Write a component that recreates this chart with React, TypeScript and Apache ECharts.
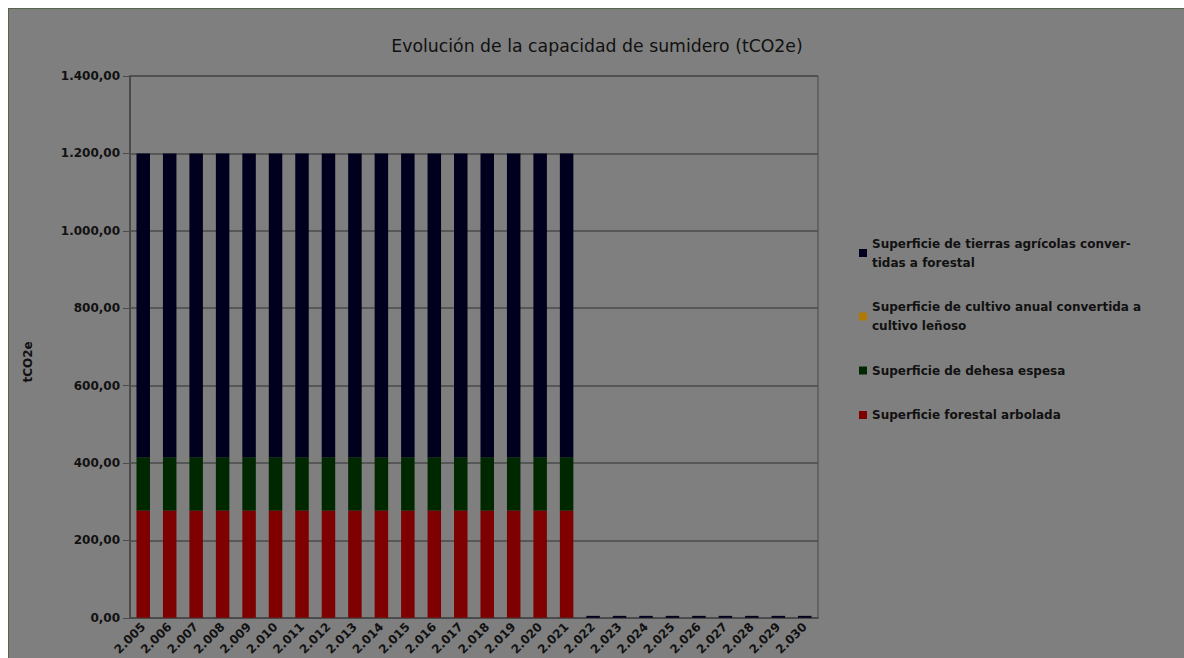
import React, { useEffect, useRef } from "react";
import * as echarts from "echarts";

const years = [
  2005, 2006, 2007, 2008, 2009, 2010, 2011, 2012, 2013, 2014, 2015, 2016, 2017,
  2018, 2019, 2020, 2021, 2022, 2023, 2024, 2025, 2026, 2027, 2028, 2029, 2030,
];
const categories = years.map((y) => String(y).replace(/^(\d)(\d{3})$/, "$1.$2"));

const forestalArbolada = [
  277, 277, 277, 277, 277, 277, 277, 277, 277, 277, 277, 277, 277, 277, 277, 277, 277,
  0, 0, 0, 0, 0, 0, 0, 0, 0,
];
const dehesaEspesa = [
  138, 138, 138, 138, 138, 138, 138, 138, 138, 138, 138, 138, 138, 138, 138, 138, 138,
  0, 0, 0, 0, 0, 0, 0, 0, 0,
];
const cultivoLenoso = [
  0, 0, 0, 0, 0, 0, 0, 0, 0, 0, 0, 0, 0, 0, 0, 0, 0,
  0, 0, 0, 0, 0, 0, 0, 0, 0,
];
const tierrasAgricolas = [
  785, 785, 785, 785, 785, 785, 785, 785, 785, 785, 785, 785, 785, 785, 785, 785, 785,
  5, 5, 5, 5, 5, 5, 5, 5, 5,
];

const seriesNames = [
  "Superficie forestal arbolada",
  "Superficie de dehesa espesa",
  "Superficie de cultivo anual convertida a cultivo leñoso",
  "Superficie de tierras agrícolas convertidas a forestal",
];
const legendLabels: Record<string, string> = {
  "Superficie de tierras agrícolas convertidas a forestal":
    "Superficie de tierras agrícolas conver-\ntidas a forestal",
  "Superficie de cultivo anual convertida a cultivo leñoso":
    "Superficie de cultivo anual convertida a\ncultivo leñoso",
  "Superficie de dehesa espesa": "Superficie de dehesa espesa",
  "Superficie forestal arbolada": "Superficie forestal arbolada",
};

const fmt = (v: number) => {
  const fixed = v.toFixed(2);
  const [int, dec] = fixed.split(".");
  return int.replace(/\B(?=(\d{3})+(?!\d))/g, ".") + "," + dec;
};

export default function App() {
  const ref = useRef<HTMLDivElement>(null);
  useEffect(() => {
    if (!ref.current) return;
    const chart = echarts.init(ref.current, null, { renderer: "svg" });
    const font = "DejaVu Sans";
    const colors = ["#7e0000", "#002800", "#b07a00", "#00001e"];
    const data = [forestalArbolada, dehesaEspesa, cultivoLenoso, tierrasAgricolas];
    chart.setOption({
      animation: false,
      backgroundColor: "#7f7f7f",
      title: {
        text: "Evolución de la capacidad de sumidero (tCO2e)",
        left: 583,
        textAlign: "center",
        top: 23,
        textStyle: { fontFamily: font, fontSize: 17.3, fontWeight: "normal", color: "#111" },
      },
      legend: {
        orient: "vertical",
        left: 845,
        top: 220,
        itemWidth: 8,
        itemHeight: 8,
        itemGap: 25.5,
        itemStyle: { borderWidth: 0 },
        icon: "rect",
        data: [seriesNames[3], seriesNames[2], seriesNames[1], seriesNames[0]],
        formatter: (n: string) => legendLabels[n] || n,
        textStyle: {
          fontFamily: font,
          fontSize: 12,
          fontWeight: "bold",
          color: "#111",
          lineHeight: 19,
        },
      },
      grid: {
        left: 121,
        top: 67,
        width: 688,
        height: 545,
        show: true,
        borderColor: "#4a4a4a",
        borderWidth: 1,
        backgroundColor: "transparent",
      },
      xAxis: {
        type: "category",
        data: categories,
        axisLine: { lineStyle: { color: "#4a4a4a", width: 2 } },
        axisTick: { show: false },
        axisLabel: {
          rotate: 45,
          interval: 0,
          margin: 7,
          fontFamily: font,
          fontSize: 12,
          fontWeight: "bold",
          color: "#111",
        },
      },
      yAxis: {
        type: "value",
        min: 0,
        max: 1400,
        interval: 200,
        name: "tCO2e",
        nameLocation: "middle",
        nameGap: 96,
        nameTextStyle: {
          fontFamily: font,
          fontSize: 12,
          color: "#111",
          fontWeight: "bold",
          padding: [0, 30, 0, 0],
        },
        axisLine: { show: true, lineStyle: { color: "#4a4a4a", width: 2 } },
        axisTick: { show: true, length: 7, lineStyle: { color: "#4a4a4a" } },
        splitLine: { lineStyle: { color: "#4a4a4a", width: 1.5 } },
        axisLabel: {
          formatter: (v: number) => fmt(v),
          margin: 10,
          fontFamily: font,
          fontSize: 12,
          fontWeight: "bold",
          color: "#111",
        },
      },
      series: seriesNames.map((name, i) => ({
        name,
        type: "bar",
        stack: "total",
        barWidth: "51%",
        data: data[i],
        itemStyle: { color: colors[i] },
      })),
    });
    return () => chart.dispose();
  }, []);
  return (
    <div
      ref={ref}
      style={{
        position: "fixed",
        left: 8,
        top: 8,
        right: 0,
        bottom: 0,
        borderTop: "1px solid #56664e",
        borderLeft: "1px solid #56664e",
        boxSizing: "border-box",
      }}
    />
  );
}
